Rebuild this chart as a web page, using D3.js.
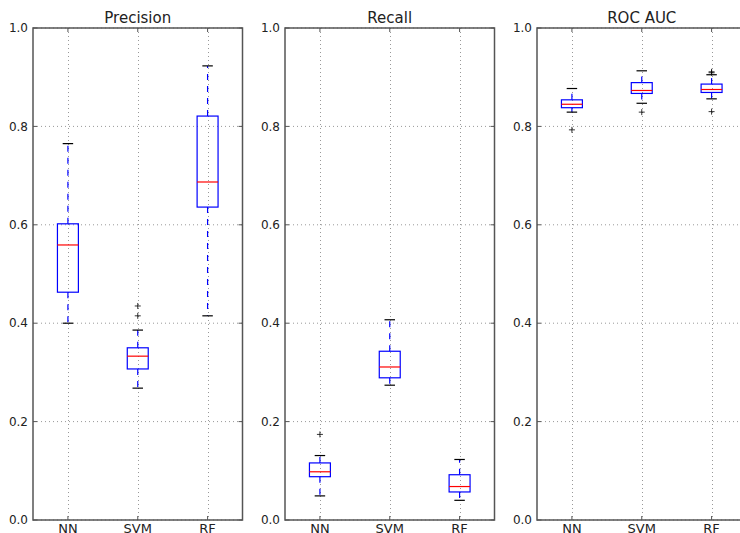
<!DOCTYPE html>
<html><head><meta charset="utf-8">
<script src="https://cdn.jsdelivr.net/npm/d3@7"></script>
<style>body{margin:0;background:#fff;} svg{display:block;} text{font-family:"DejaVu Sans",sans-serif;fill:#222;}</style>
</head><body><svg id="c" width="740" height="533"></svg>
<script>
const panels = ["Precision", "Recall", "ROC AUC"];
const categories = ["NN", "SVM", "RF"];
const yTicks = [0.0, 0.2, 0.4, 0.6, 0.8, 1.0];
// [whiskerLow, Q1, median, Q3, whiskerHigh]
const precisionStats = [[0.400, 0.463, 0.559, 0.602, 0.765], [0.268, 0.307, 0.333, 0.350, 0.386], [0.415, 0.636, 0.687, 0.821, 0.923]];
const recallStats = [[0.049, 0.088, 0.098, 0.116, 0.131], [0.274, 0.289, 0.311, 0.343, 0.407], [0.040, 0.057, 0.068, 0.092, 0.123]];
const rocStats = [[0.829, 0.838, 0.845, 0.854, 0.877], [0.847, 0.867, 0.873, 0.889, 0.913], [0.856, 0.869, 0.875, 0.886, 0.905]];
const precisionFliers = [[], [0.415, 0.435], []];
const recallFliers = [[0.174], [], []];
const rocFliers = [[0.793], [0.829], [0.830, 0.909, 0.911]];
const statsAll = [precisionStats, recallStats, rocStats];
const fliersAll = [precisionFliers, recallFliers, rocFliers];

const svg = d3.select("#c");
const panelLeft = [33, 285, 537], panelW = 209.5, plotTop = 28, plotBottom = 520;
const y = d3.scaleLinear().domain([0, 1]).range([plotBottom, plotTop]);

panels.forEach((title, p) => {
  const x = d3.scaleLinear().domain([0.5, 3.5]).range([panelLeft[p], panelLeft[p] + panelW]);
  const g = svg.append("g");
  g.selectAll(".gy").data(yTicks).enter().append("line")
    .attr("x1", x(0.5)).attr("x2", x(3.5)).attr("y1", d => y(d)).attr("y2", d => y(d))
    .attr("stroke", "#999").attr("stroke-width", 1).attr("stroke-dasharray", "1,3");
  g.selectAll(".gx").data(categories).enter().append("line")
    .attr("x1", (d, i) => Math.round(x(i + 1)) + 0.5).attr("x2", (d, i) => Math.round(x(i + 1)) + 0.5)
    .attr("y1", plotTop).attr("y2", plotBottom)
    .attr("stroke", "#999").attr("stroke-width", 1).attr("stroke-dasharray", "1,3");
  const bw = 0.3, cw = 0.15;
  statsAll[p].forEach((s, i) => {
    const cx = x(i + 1);
    g.append("line").attr("x1", cx).attr("x2", cx).attr("y1", y(s[3])).attr("y2", y(s[4]))
      .attr("stroke", "#0000ff").attr("stroke-width", 1.2).attr("stroke-dasharray", "6,6");
    g.append("line").attr("x1", cx).attr("x2", cx).attr("y1", y(s[1])).attr("y2", y(s[0]))
      .attr("stroke", "#0000ff").attr("stroke-width", 1.2).attr("stroke-dasharray", "6,6");
    [s[0], s[4]].forEach(v => g.append("line")
      .attr("x1", x(i + 1 - cw / 2)).attr("x2", x(i + 1 + cw / 2)).attr("y1", y(v)).attr("y2", y(v))
      .attr("stroke", "#000").attr("stroke-width", 1.2));
    g.append("rect").attr("x", x(i + 1 - bw / 2)).attr("width", x(i + 1 + bw / 2) - x(i + 1 - bw / 2))
      .attr("y", y(s[3])).attr("height", y(s[1]) - y(s[3]))
      .attr("fill", "none").attr("stroke", "#0000ff").attr("stroke-width", 1.2);
    g.append("line").attr("x1", x(i + 1 - bw / 2)).attr("x2", x(i + 1 + bw / 2))
      .attr("y1", y(s[2])).attr("y2", y(s[2])).attr("stroke", "#ff0000").attr("stroke-width", 1.2);
    fliersAll[p][i].forEach(v => {
      g.append("line").attr("x1", cx - 3).attr("x2", cx + 3).attr("y1", y(v)).attr("y2", y(v)).attr("stroke", "#000").attr("stroke-width", 0.8);
      g.append("line").attr("x1", cx).attr("x2", cx).attr("y1", y(v) - 3).attr("y2", y(v) + 3).attr("stroke", "#000").attr("stroke-width", 0.8);
    });
  });
  g.append("rect").attr("x", x(0.5)).attr("y", plotTop).attr("width", panelW).attr("height", plotBottom - plotTop)
    .attr("fill", "none").attr("stroke", "#555").attr("stroke-width", 1.5);
  yTicks.forEach(v => {
    g.append("line").attr("x1", x(0.5)).attr("x2", x(0.5) + 4).attr("y1", y(v)).attr("y2", y(v)).attr("stroke", "#555");
    g.append("line").attr("x1", x(3.5)).attr("x2", x(3.5) - 4).attr("y1", y(v)).attr("y2", y(v)).attr("stroke", "#555");
  });
  categories.forEach((c, i) => {
    g.append("line").attr("x1", x(i + 1)).attr("x2", x(i + 1)).attr("y1", plotBottom).attr("y2", plotBottom - 4).attr("stroke", "#555");
    g.append("line").attr("x1", x(i + 1)).attr("x2", x(i + 1)).attr("y1", plotTop).attr("y2", plotTop + 4).attr("stroke", "#555");
  });
  g.selectAll(".yl").data(yTicks).enter().append("text")
    .attr("x", x(0.5) - 5).attr("y", d => y(d)).attr("dy", "0.35em").attr("text-anchor", "end")
    .attr("font-size", 12).text(d => d3.format(".1f")(d));
  g.selectAll(".xl").data(categories).enter().append("text")
    .attr("x", (d, i) => x(i + 1)).attr("y", plotBottom + 13).attr("text-anchor", "middle")
    .attr("font-size", 13).text(d => d);
  g.append("text").attr("x", x(2)).attr("y", 23).attr("text-anchor", "middle")
    .attr("font-size", 15).text(title);
});
</script></body></html>
